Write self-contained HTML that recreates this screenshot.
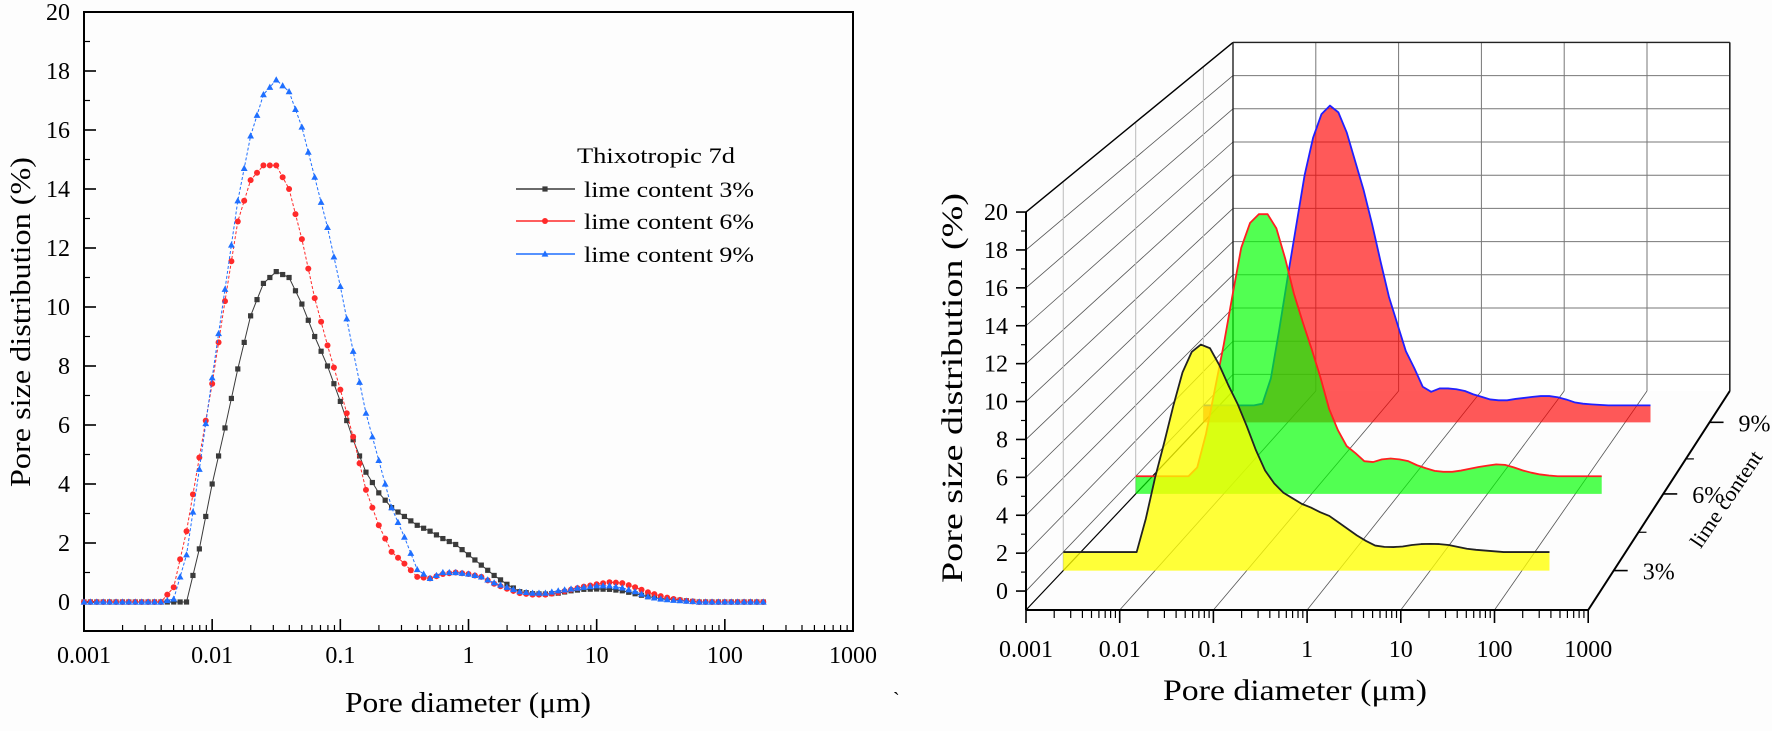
<!DOCTYPE html>
<html><head><meta charset="utf-8">
<style>
html,body{margin:0;padding:0;background:#fff;}
svg{display:block;font-family:"Liberation Serif",serif;}
</style></head>
<body>
<svg id="fig" width="1772" height="731" viewBox="0 0 1772 731" xmlns="http://www.w3.org/2000/svg">
<rect x="0" y="0" width="1772" height="731" fill="#fdfdfd"/>
<g id="left"></g>
<g id="right"></g>
<text x="893" y="706" font-size="20">`</text>
</svg>
<script>
const logD = [-3.0,-2.9,-2.8,-2.7,-2.6,-2.5,-2.4,-2.3,-2.2,-2.1,-2.0,-1.9,-1.8,-1.7,-1.6,-1.5,-1.4,-1.3,-1.2,-1.1,-1.0,-0.9,-0.8,-0.7,-0.6,-0.5,-0.4,-0.3,-0.2,-0.1,0.0,0.1,0.2,0.3,0.4,0.5,0.6,0.7,0.8,0.9,1.0,1.1,1.2,1.3,1.4,1.5,1.6,1.7,1.8,1.9,2.0,2.1,2.2,2.3];
const lime3 = [0,0,0,0,0,0,0,0,0,1.8,4.0,5.9,7.9,9.7,10.8,11.2,11.0,10.1,9.0,8.0,6.8,5.5,4.4,3.7,3.2,2.9,2.6,2.4,2.15,1.95,1.6,1.25,0.9,0.6,0.35,0.28,0.27,0.3,0.38,0.43,0.44,0.43,0.38,0.28,0.18,0.12,0.08,0.04,0,0,0,0,0,0];
const lime6 = [0,0,0,0,0,0,0,0.5,2.4,4.9,7.4,10.2,12.9,14.3,14.8,14.8,14.0,12.3,10.3,8.7,7.2,5.6,3.8,2.6,1.7,1.3,0.85,0.8,0.95,1.0,0.95,0.85,0.62,0.45,0.3,0.25,0.25,0.32,0.42,0.52,0.6,0.67,0.64,0.5,0.33,0.2,0.1,0.04,0,0,0,0,0,0];
const lime9 = [0,0,0,0,0,0,0,0.1,1.6,4.5,7.6,10.6,13.6,15.8,17.2,17.7,17.3,16.1,14.4,12.7,10.7,8.5,6.4,4.8,3.2,2.2,1.1,0.8,1.0,1.0,0.95,0.85,0.65,0.5,0.35,0.3,0.3,0.38,0.44,0.5,0.55,0.55,0.48,0.35,0.18,0.1,0.06,0.03,0,0,0,0,0,0];
const seriesNames = ["lime content 3%","lime content 6%","lime content 9%"];
const xTickLabels = ["0.001","0.01","0.1","1","10","100","1000"];
const yTickLabels = ["0","2","4","6","8","10","12","14","16","18","20"];
const depthLabels = ["3%","6%","9%"];

const NS="http://www.w3.org/2000/svg";
function mk(parent,tag,attrs,text){const e=document.createElementNS(NS,tag);for(const k in attrs)e.setAttribute(k,attrs[k]);if(text!==undefined)e.textContent=text;parent.appendChild(e);return e;}

/* ---------- LEFT CHART ---------- */
const L=document.getElementById('left');
const LX0=84, LX1=853, LYT=12, LYB=631;
const lx=ld=>LX0+(ld+3)*(LX1-LX0)/6;
const ly=v=>602-v*29.5;
let e=mk(L,'rect',{x:LX0,y:LYT,width:LX1-LX0,height:LYB-LYT,fill:'none',stroke:'#000','stroke-width':2});


// x ticks
for(let dec=-3;dec<=3;dec++){
  const X=lx(dec);
  e=mk(L,'line',{x1:X,y1:LYB,x2:X,y2:LYB-12,stroke:'#000','stroke-width':1.6});
  
  
  e=mk(L,'text',{x:X,y:663,'font-size':24,'text-anchor':'middle'},xTickLabels[dec+3]);
  
  
  if(dec<3){for(let m=2;m<=9;m++){const Xm=lx(dec+Math.log10(m));
    e=mk(L,'line',{x1:Xm,y1:LYB,x2:Xm,y2:LYB-6,stroke:'#000','stroke-width':1.2});
    
    }}
}
// y ticks
for(let i=0;i<yTickLabels.length;i++){
  const v=+yTickLabels[i];const Y=ly(v);
  e=mk(L,'line',{x1:LX0,y1:Y,x2:LX0+12,y2:Y,stroke:'#000','stroke-width':1.6});
  
  
  e=mk(L,'text',{x:70,y:Y+8,'font-size':24,'text-anchor':'end'},yTickLabels[i]);
  
  
  if(i<yTickLabels.length-1){
    e=mk(L,'line',{x1:LX0,y1:ly(v+1),x2:LX0+6,y2:ly(v+1),stroke:'#000','stroke-width':1.2});
    
    
  }
}
e=mk(L,'text',{x:0,y:0,'font-size':28,'text-anchor':'middle',transform:'translate(30,322) rotate(-90)',textLength:330,lengthAdjust:'spacingAndGlyphs'},'Pore size distribution (%)');


e=mk(L,'text',{x:468,y:712,'font-size':28,'text-anchor':'middle',textLength:246,lengthAdjust:'spacingAndGlyphs'},'Pore diameter (\u03bcm)');



const colors=['#3a3a3a','#ff2a2a','#1f6fff'];
const seriesVals=[lime3,lime6,lime9];
function marker(g,kind,X,Y,c){
  if(kind===0) return mk(g,'rect',{x:X-2.6,y:Y-2.6,width:5.2,height:5.2,fill:c});
  if(kind===1) return mk(g,'circle',{cx:X,cy:Y,r:3,fill:c});
  return mk(g,'polygon',{points:`${X},${Y-3.6} ${X-3.4},${Y+2.6} ${X+3.4},${Y+2.6}`,fill:c});
}
for(let s=0;s<3;s++){
  const g=mk(L,'g',{});
  
  
  const pts=logD.map((d,i)=>lx(d)+','+ly(seriesVals[s][i])).join(' ');
  e=mk(g,'polyline',{points:pts,fill:'none',stroke:colors[s],'stroke-width':1,'stroke-dasharray':s===0?'':'3 2'});
  
  
  for(let i=0;i<logD.length;i++){
    const X=lx(logD[i]),Y=ly(seriesVals[s][i]);
    e=marker(g,s,X,Y,colors[s]);
    
    
    if(i<logD.length-1){
      const X2=(X+lx(logD[i+1]))/2,Y2=(Y+ly(seriesVals[s][i+1]))/2;
      e=marker(g,s,X2,Y2,colors[s]);
      
      
    }
  }
}
// legend
const lg=mk(L,'g',{});


e=mk(lg,'text',{x:577,y:163,'font-size':22,textLength:158,lengthAdjust:'spacingAndGlyphs'},'Thixotropic 7d');


const legY=[189,221,254];
for(let s=0;s<3;s++){
  e=mk(lg,'line',{x1:516,y1:legY[s],x2:575,y2:legY[s],stroke:colors[s],'stroke-width':1.4});
  
  
  e=marker(lg,s,545,legY[s],colors[s]);
  
  
  e=mk(lg,'text',{x:584,y:legY[s]+8,'font-size':22,textLength:170,lengthAdjust:'spacingAndGlyphs'},seriesNames[s]);
  
  
}

/* ---------- RIGHT 3D CHART ---------- */
const R=document.getElementById('right');
function P(ld,v,t){
  const x0=1026+207*t, dec=93.7-10.9*t, unit=18.95-2.35*t, yb=610-219*t;
  return [x0+(ld+3)*dec, yb-(v+1)*unit];
}
function line(g,a,b,st,w,name){const el=mk(g,'line',{x1:a[0],y1:a[1],x2:b[0],y2:b[1],stroke:st,'stroke-width':w});
  
  return el;}
const grid=mk(R,'g',{});


mk(grid,'polygon',{points:[P(-3,-1,1),P(3,-1,1),P(3,20,1),P(-3,20,1)].map(p=>p.join(',')).join(' '),fill:'#fff'});
// back wall
for(let v=0;v<=20;v+=2) line(grid,P(-3,v,1),P(3,v,1),'#777',1,'back-wall-gridline');
for(let d=-2;d<=2;d++) line(grid,P(d,-1,1),P(d,20,1),'#777',1,'back-wall-gridline');
// left wall
for(let v=0;v<=20;v+=2) line(grid,P(-3,v,0),P(-3,v,1),'#555',0.8,'left-wall-gridline');
[0.18,0.53,0.857].forEach(t=>line(grid,P(-3,-1,t),P(-3,20,t),'#bbb',1,'left-wall-gridline'));
// floor
for(let d=-2;d<=2;d++) line(grid,P(d,-1,0),P(d,-1,1),'#555',0.8,'floor-gridline');
line(grid,P(-3,-1,0),P(-3,-1,1),'#000',1.2,'left-wall-edge');
line(grid,P(-3,20,0),P(-3,20,1),'#000',1.4,'left-wall-top-edge');
line(grid,P(-3,20,1),P(3,20,1),'#222',1.4,'back-wall-top-edge');
line(grid,P(-3,-1,1),P(-3,20,1),'#222',1.4,'back-wall-left-edge');
line(grid,P(3,-1,1),P(3,20,1),'#222',1.6,'back-wall-right-edge');

// series planes (back to front)
const planeT=[0.18,0.53,0.857];
const fills=['rgba(255,255,0,0.78)','rgba(0,255,0,0.68)','rgba(255,0,0,0.65)'];
const strokes=['#222','#ff2020','#2020ff'];
for(let s=2;s>=0;s--){
  const t=planeT[s];
  const g=mk(R,'g',{});
  
  
  const top=logD.map((d,i)=>P(d,seriesVals[s][i],t));
  const poly=[P(logD[0],-1,t),...top,P(logD[logD.length-1],-1,t)];
  e=mk(g,'polygon',{points:poly.map(p=>p.join(',')).join(' '),fill:fills[s]});
  
  
  e=mk(g,'polyline',{points:top.map(p=>p.join(',')).join(' '),fill:'none',stroke:strokes[s],'stroke-width':1.8,'stroke-linejoin':'round'});
  
  
}

// front axes
const ax=mk(R,'g',{});


line(ax,P(-3,-1,0),P(-3,20,0),'#000',2,'y-axis-line');
line(ax,P(-3,-1,0),P(3,-1,0),'#000',2,'x-axis-line');
line(ax,P(3,-1,0),P(3,-1,1),'#000',2,'depth-axis-line');
for(let i=0;i<yTickLabels.length;i++){
  const v=+yTickLabels[i];const p=P(-3,v,0);
  line(ax,p,[p[0]-10,p[1]],'#000',1.6,'y-major-tick');
  e=mk(ax,'text',{x:1008,y:p[1]+8,'font-size':24,'text-anchor':'end'},yTickLabels[i]);
  
  
  if(v<20){const q=P(-3,v+1,0);line(ax,q,[q[0]-5,q[1]],'#000',1.2,'y-minor-tick');}
}
for(let dec=-3;dec<=3;dec++){
  const p=P(dec,-1,0);
  line(ax,p,[p[0],p[1]+13],'#000',1.6,'x-major-tick');
  e=mk(ax,'text',{x:p[0],y:657,'font-size':24,'text-anchor':'middle'},xTickLabels[dec+3]);
  
  
  if(dec<3){for(let m=2;m<=9;m++){const q=P(dec+Math.log10(m),-1,0);line(ax,q,[q[0],q[1]+8],'#000',1.2,'x-minor-tick');}}
}
const depthTicks=[0.18,0.53,0.857];
for(let k=0;k<3;k++){
  const p=P(3,-1,depthTicks[k]);
  line(ax,p,[p[0]+14,p[1]],'#000',1.6,'depth-major-tick');
  e=mk(ax,'text',{x:p[0]+45,y:p[1]+9,'font-size':24,'text-anchor':'middle'},depthLabels[k]);
  
  
}
[0.355,0.69].forEach(t=>{const p=P(3,-1,t);line(ax,p,[p[0]+8,p[1]],'#000',1.2,'depth-minor-tick');});
e=mk(ax,'text',{x:0,y:0,'font-size':21,'text-anchor':'middle',transform:'translate(1732,503) rotate(-56)',textLength:112,lengthAdjust:'spacingAndGlyphs'},'lime content');


e=mk(ax,'text',{x:0,y:0,'font-size':30,'text-anchor':'middle',transform:'translate(962,388) rotate(-90)',textLength:390,lengthAdjust:'spacingAndGlyphs'},'Pore size distribution (%)');


e=mk(ax,'text',{x:1295,y:700,'font-size':30,'text-anchor':'middle',textLength:264,lengthAdjust:'spacingAndGlyphs'},'Pore diameter (\u03bcm)');


</script>
</body></html>
